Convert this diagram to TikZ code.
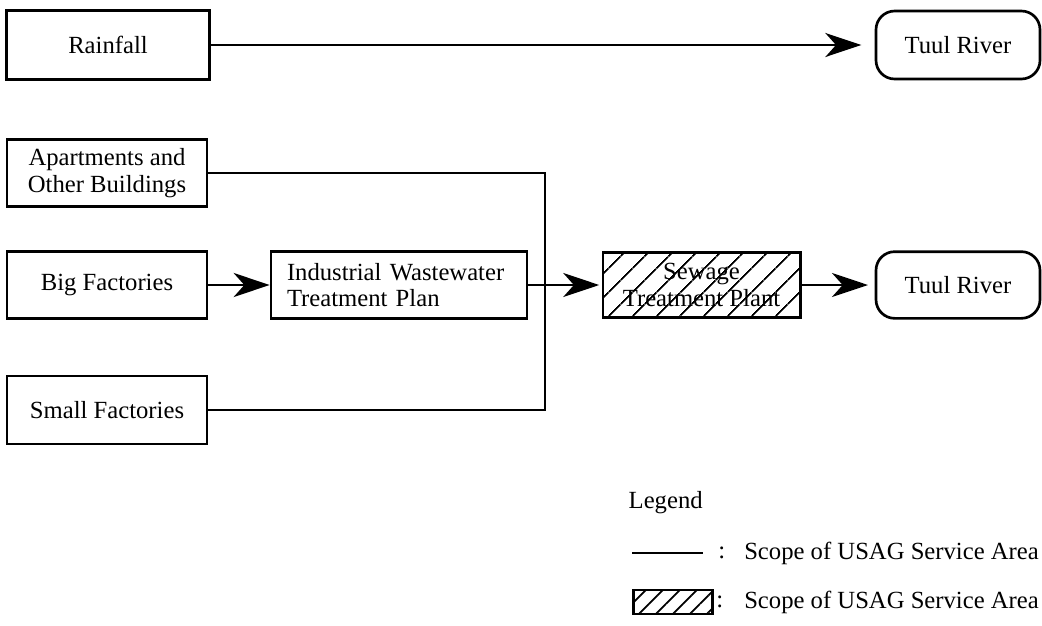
\documentclass[tikz,border=0pt]{standalone}
\usepackage{fontspec}
\setmainfont{Liberation Serif}
\usepackage{tikz}
\usetikzlibrary{positioning,arrows.meta,patterns.meta}

\begin{document}
\begin{tikzpicture}[
  x=0.75pt, y=-0.75pt,
  font=\fontsize{18.5pt}{20pt}\selectfont,
  sbox/.style={draw, line width=2pt, align=center, minimum width=150pt, minimum height=50pt, inner sep=2pt},
  rbox/.style={draw, line width=2pt, rounded corners=14pt, align=center, minimum width=123pt, minimum height=51pt},
  hbox/.style={sbox, pattern={Lines[angle=45, distance=13pt, line width=1.4pt]}},
  wire/.style={line width=2pt},
  arr/.style={wire, -{Stealth[length=27pt, width=18pt, inset=8pt]}},
]
\useasboundingbox (0,0) rectangle (1042,625);

% sources
\node[sbox, minimum width=152pt, minimum height=52pt] (rain) at (108,45) {Rainfall};
\node[sbox] (apart) at (107,173) {Apartments and\\Other Buildings};
\node[sbox] (big) at (107,285) {Big Factories};
\node[sbox, minimum height=51pt] (small) at (107,410) {Small Factories};

% treatment
\node[sbox, minimum width=192pt, text width=168pt, align=left] (iwtp) at (399,285) {Industrial Wastewater\\Treatment Plan};
\node[hbox, minimum width=148pt, minimum height=49pt] (stp) at (701.5,285) {Sewage\\Treatment Plant};

% receiving water
\node[rbox] (tuulA) at (958,45) {Tuul River};
\node[rbox, minimum height=50pt] (tuulB) at (958,285) {Tuul River};

\coordinate (jn) at (545,285);

\draw[arr, shorten >=10pt] (rain) -- (tuulA);
\draw[wire] (apart.east) -| (jn) |- (small.east);
\draw[arr] (big) -- (iwtp);
\draw[wire] (iwtp) -- (jn);
\draw[arr, shorten >=2pt] (jn) -- (stp);
\draw[arr, shorten >=5pt] (stp) -- (tuulB);

% legend
\node[anchor=west] (leg) at (624,503) {Legend};
\coordinate (lgA) at (632,553);
\coordinate (lgB) at (703,553);
\draw[wire] (lgA) -- (lgB);
\node[anchor=west, inner sep=0pt] (colA) at (718,553) {:};
\node[anchor=west, inner sep=0pt] (txtA) at (744,553) {Scope of USAG Service Area};
\node[draw, line width=2pt, pattern={Lines[angle=45, distance=9pt, line width=1.3pt]}, minimum width=59pt, minimum height=18pt, inner sep=0pt] (hsmp) at (673,602) {};
\node[anchor=west, inner sep=0pt] (colB) at (716,602) {:};
\node[anchor=west, inner sep=0pt] (txtB) at (744,602) {Scope of USAG Service Area};
\end{tikzpicture}
\end{document}
